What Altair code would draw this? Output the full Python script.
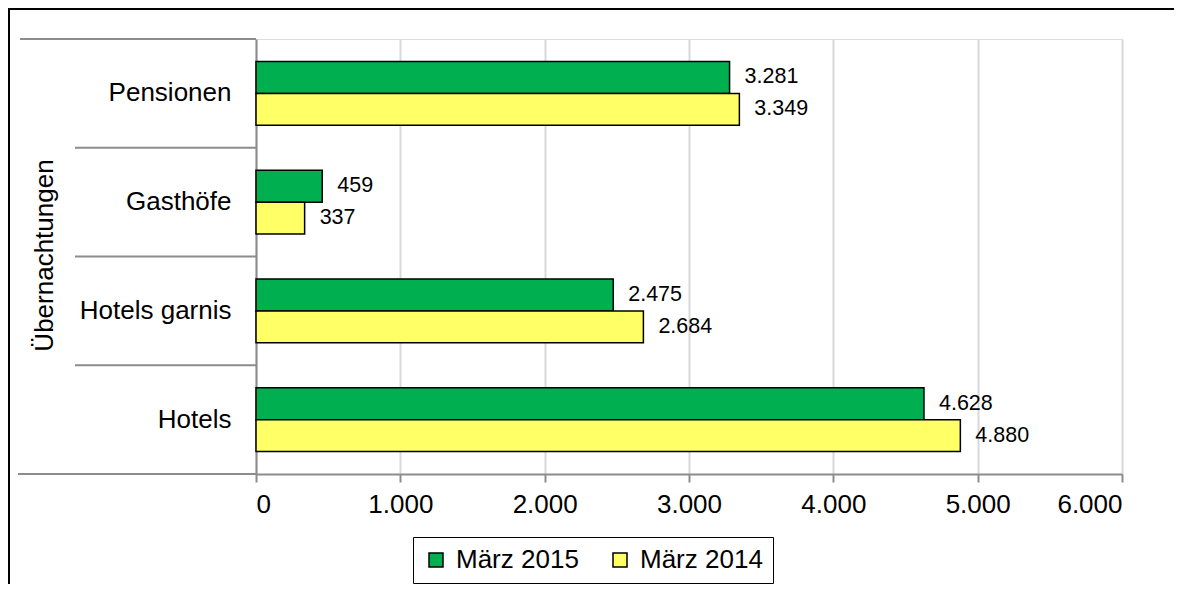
import altair as alt
import pandas as pd

categories = ["Pensionen", "Gasthöfe", "Hotels garnis", "Hotels"]
series = ["März 2015", "März 2014"]
values_2015 = [3281, 459, 2475, 4628]
values_2014 = [3349, 337, 2684, 4880]
x_ticks = [0, 1000, 2000, 3000, 4000, 5000, 6000]
colors = ["#00B050", "#FFFF66"]

rows = []
for c, a, b in zip(categories, values_2015, values_2014):
    rows.append({"Kategorie": c, "Reihe": series[0], "Wert": a})
    rows.append({"Kategorie": c, "Reihe": series[1], "Wert": b})
df = pd.DataFrame(rows)
sep_df = pd.DataFrame({"Kategorie": categories[1:]})
one = pd.DataFrame({"a": [0]})

FONT = "Liberation Sans"
W, H = 866, 435

y_enc = alt.Y(
    "Kategorie:N",
    sort=categories,
    scale=alt.Scale(domain=categories, paddingInner=0, paddingOuter=0),
    axis=alt.Axis(
        title="Übernachtungen",
        ticks=False,
        labelPadding=25,
        labelFontSize=26,
        labelFont=FONT,
        labelColor="black",
        domainColor="#8c8c8c",
        domainWidth=2,
        titleFont=FONT,
        titleFontSize=26,
        titleFontWeight="normal",
        titleColor="black",
        titleAngle=270,
        titleX=-212,
        titleY=216,
        titleAlign="center",
        titleBaseline="middle",
    ),
)
yoff = alt.YOffset(
    "Reihe:N",
    sort=series,
    scale=alt.Scale(domain=series, paddingInner=0, paddingOuter=0.71),
)
x_enc = alt.X(
    "Wert:Q",
    scale=alt.Scale(domain=[0, 6000], nice=False),
    axis=alt.Axis(
        title=None,
        values=x_ticks,
        format=",d",
        labelFontSize=26,
        labelFont=FONT,
        labelColor="black",
        labelPadding=9,
        tickSize=8,
        tickColor="#8c8c8c",
        tickWidth=2,
        domainColor="#8c8c8c",
        domainWidth=2,
        grid=True,
        gridColor="#d9d9d9",
        gridWidth=2,
    ),
)

border = alt.Chart(one).mark_rect(
    fillOpacity=0, stroke="black", strokeWidth=2
).encode(
    x=alt.value(-247), x2=alt.value(1400), y=alt.value(-30), y2=alt.value(900)
)

bars = alt.Chart(df).mark_bar(stroke="black", strokeWidth=1.5).encode(
    x=x_enc,
    y=y_enc,
    yOffset=yoff,
    color=alt.Color(
        "Reihe:N",
        sort=series,
        scale=alt.Scale(domain=series, range=colors),
        title=None,
        legend=alt.Legend(
            orient="none",
            legendX=157,
            legendY=498,
            direction="horizontal",
            symbolType="square",
            symbolSize=196,
            symbolStrokeColor="black",
            symbolStrokeWidth=1.5,
            labelFontSize=26,
            labelFont=FONT,
            labelColor="black",
            labelOffset=7,
            columnPadding=28,
            strokeColor="black",
            padding=10,
            fillColor="white",
        ),
    ),
)

labels = alt.Chart(df).mark_text(
    align="left", baseline="middle", dx=15, fontSize=21.5, font=FONT, color="black"
).encode(
    x="Wert:Q",
    y=alt.Y("Kategorie:N", sort=categories),
    yOffset=alt.YOffset("Reihe:N", sort=series),
    text=alt.Text("Wert:Q", format=",d"),
)

seps = alt.Chart(sep_df).mark_rule(color="#8c8c8c", strokeWidth=2).encode(
    y=alt.Y("Kategorie:N", sort=categories, bandPosition=0),
    x=alt.value(-181),
    x2=alt.value(0),
)

top_line = alt.Chart(one).mark_rule(color="#8c8c8c", strokeWidth=2).encode(
    x=alt.value(-236), x2=alt.value(0), y=alt.value(0)
)
bottom_line = alt.Chart(one).mark_rule(color="#8c8c8c", strokeWidth=2).encode(
    x=alt.value(-238), x2=alt.value(0), y=alt.value(H)
)

chart = alt.layer(border, bars, labels, seps, top_line, bottom_line).properties(
    width=W,
    height=H,
    autosize=alt.AutoSizeParams(type="none"),
    padding={"left": 248, "top": 31, "right": 52, "bottom": 110},
).configure_view(stroke=None).configure(
    locale=alt.Locale(
        number=alt.NumberLocale(
            decimal=",", thousands=".", grouping=[3], currency=["", " €"]
        )
    )
)

chart.save("out.html", embed_options={"renderer": "svg", "actions": False})
